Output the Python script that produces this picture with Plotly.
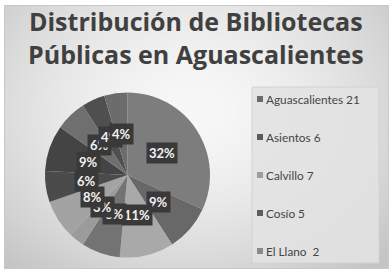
import math
import zlib
import struct
import base64
import plotly.graph_objects as go

municipios = ["Aguascalientes 21", "Asientos 6", "Calvillo 7", "Cosío 5", "El Llano  2",
              "Jesús María 5", "Pabellón de Arteaga 4", "Rincón de Romos 6",
              "San José de Gracia 4", "Tepezalá 3", "San Francisco de los Romo 3"]
bibliotecas = [21, 6, 7, 5, 2, 5, 4, 6, 4, 3, 3]
etiquetas = ["32%", "9%", "11%", "8%", "3%", "8%", "6%", "9%", "6%", "4%", "4%"]
colores = ["#7d7d7d", "#686868", "#a9a9a9", "#737373", "#9b9b9b", "#a3a3a3",
           "#4b4b4b", "#444444", "#6f6f6f", "#4f4f4f", "#6c6c6c"]
leyenda_colores = ["#6a6a6a", "#5b5b5b", "#9e9e9e", "#5d5d5d", "#8a8a8a"]

W, H = 391, 272
cx, cy, R = 127.5, 175.0, 82.5  # pie centre/radius in pixels


def background_png():
    rows = []
    for y in range(H):
        row = bytearray([0])
        for x in range(W):
            if x < 4 or x > 388 or y < 5 or y > 268:
                v = 255
            elif x == 4 or x == 388 or y == 5 or y == 268:
                v = 200
            else:
                d = math.sqrt(((x - 190) / 260.0) ** 2 + ((y - 110) / 200.0) ** 2)
                v = int(max(196, min(248, 248 - 48 * d ** 1.6)))
            row += bytes([v, v, v])
        rows.append(bytes(row))
    raw = b"".join(rows)

    def chunk(tag, data):
        c = struct.pack(">I", len(data)) + tag + data
        return c + struct.pack(">I", zlib.crc32(tag + data) & 0xFFFFFFFF)

    png = b"\x89PNG\r\n\x1a\n" + chunk(b"IHDR", struct.pack(">IIBBBBB", W, H, 8, 2, 0, 0, 0))
    png += chunk(b"IDAT", zlib.compress(raw, 9)) + chunk(b"IEND", b"")
    return "data:image/png;base64," + base64.b64encode(png).decode()


fig = go.Figure()
fig.add_trace(go.Pie(
    labels=municipios, values=bibliotecas, sort=False, direction="clockwise",
    rotation=0, textinfo="none", hoverinfo="label+percent",
    marker=dict(colors=colores, line=dict(width=0)),
    domain=dict(x=[(cx - R) / W, (cx + R) / W], y=[(H - cy - R) / H, (H - cy + R) / H]),
    showlegend=False,
))

shapes = [
    dict(type="rect", xref="paper", yref="paper", x0=252 / W, x1=379 / W, y0=1 - 263 / H, y1=1 - 87 / H,
         fillcolor="rgba(226,226,226,0.9)", line=dict(color="#d2d2d2", width=1), layer="below"),
]

annotations = []
total = sum(bibliotecas)
acc = 0
for v, t in zip(bibliotecas, etiquetas):
    mid = (acc + v / 2) / total * 2 * math.pi
    acc += v
    px = cx + 0.5 * R * math.sin(mid)
    py = cy - 0.5 * R * math.cos(mid)
    annotations.append(dict(
        x=px / W, y=1 - py / H, xref="paper", yref="paper", text="<b>%s</b>" % t,
        showarrow=False, font=dict(family="Lato", size=13, color="#f2f2f2"),
        bgcolor="#393939", borderpad=2, xanchor="center", yanchor="middle"))

row_y = [99, 137, 175, 213, 251]
for name, col, yy in zip(municipios[:5], leyenda_colores, row_y):
    shapes.append(dict(type="rect", xref="paper", yref="paper",
                       x0=257 / W, x1=263 / W, y0=1 - (yy + 3) / H, y1=1 - (yy - 3) / H,
                       fillcolor=col, line=dict(width=0)))
    annotations.append(dict(x=264 / W, y=1 - yy / H, xref="paper", yref="paper", text=name,
                            showarrow=False, xanchor="left", yanchor="middle",
                            font=dict(family="Lato", size=11.8, color="#454545")))

annotations.append(dict(x=0.5, y=1 - 38 / H, xref="paper", yref="paper",
                        text="<b>Distribución de Bibliotecas<br>Públicas en Aguascalientes</b>",
                        showarrow=False, xanchor="center", yanchor="middle",
                        font=dict(family="Open Sans", size=25, color="#404040")))

fig.update_layout(width=W, height=H, margin=dict(l=0, r=0, t=0, b=0),
                  paper_bgcolor="white", plot_bgcolor="white",
                  images=[dict(source=background_png(), xref="paper", yref="paper",
                               x=0, y=1, sizex=1, sizey=1, sizing="stretch",
                               xanchor="left", yanchor="top", layer="below")],
                  shapes=shapes, annotations=annotations)
fig.write_html("out.html", config={"displayModeBar": False},
               post_script="document.body.style.margin='0';")
